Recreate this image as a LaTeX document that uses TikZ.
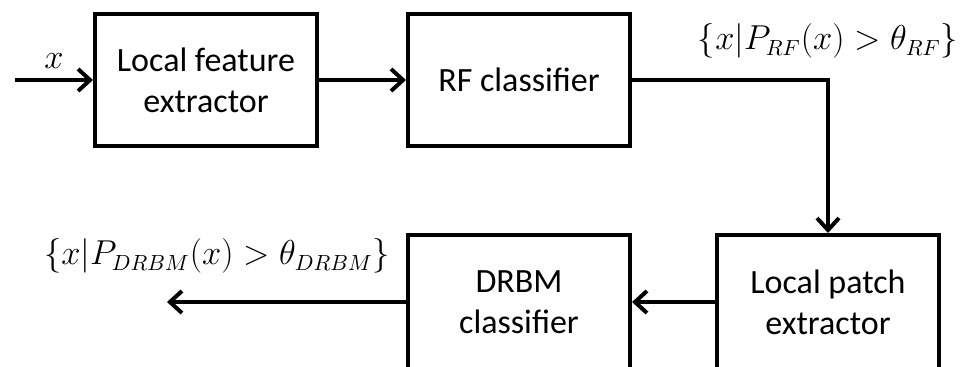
\documentclass[tikz,border=0pt]{standalone}
\usepackage{amsmath}
\usepackage{fontspec}
\setmainfont{Carlito}
\usepackage{tikz}
\usetikzlibrary{arrows.meta, calc, positioning}

\begin{document}
\begin{tikzpicture}[
 x=0.5pt, y=-0.5pt,
 module/.style={draw, line width=2pt, minimum width=111pt, minimum height=66pt,
   align=center, font=\fontsize{17}{20.5}\selectfont},
 setlabel/.style={font=\fontsize{16}{19}\selectfont, inner sep=1pt},
 arrow/.style={-{Straight Barb[length=6pt,width=11pt]}, line width=2pt},
 ]
 \useasboundingbox (0,0) rectangle (969,366);
 \node[module] (lfe) at (206,80) {Local feature\\extractor};
 \node[right= 43.5pt of lfe, module] (rf) {RF classifier};
 \node[module, minimum height=67pt] (lpe) at (828,302) {Local patch\\extractor};
 \node[left= 41.5pt of lpe, module, minimum height=67pt] (drbm) {DRBM\\classifier};

 \coordinate (input) at (15,80);
 \coordinate (output) at (167,302);
 \coordinate (rfcorner) at (rf.east -| lpe.north);

 \node[above= 9.5pt of rfcorner, setlabel] (rflabel)
 {$\{x|P_{RF}(x) > \theta_{RF}\}$};
 \node[above= 13pt of output, setlabel, xshift=25pt] (drbmlabel)
 {$\{x|P_{DRBM}(x) > \theta_{DRBM}\}$};

 \draw[arrow] (input) -- node[above=4pt, setlabel] (xlabel) {$x$} (lfe);
 \draw[arrow] (lfe) -- (rf);
 \draw[arrow] (rf.east) -- (rfcorner) -- (lpe.north);
 \draw[arrow] (lpe) -- (drbm);
 \draw[arrow] (drbm) -- (output);
\end{tikzpicture}
\end{document}
